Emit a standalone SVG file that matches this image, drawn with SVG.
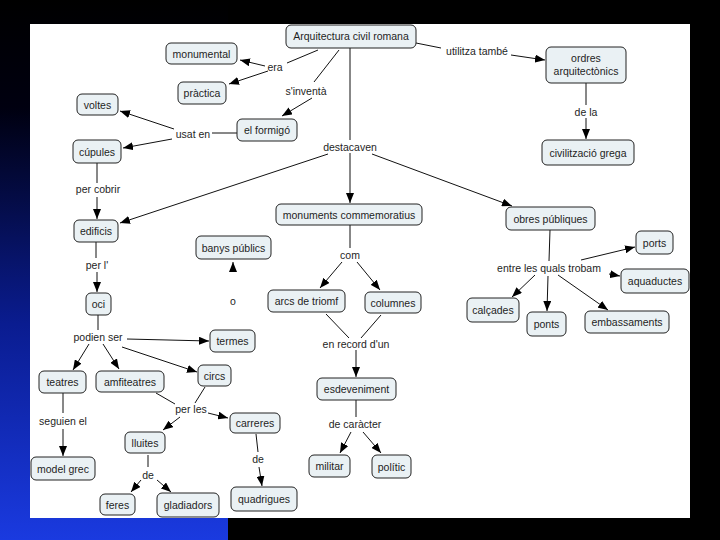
<svg xmlns="http://www.w3.org/2000/svg" width="720" height="540" viewBox="0 0 720 540">
<defs>
<linearGradient id="bg" x1="0" y1="0" x2="0" y2="1">
<stop offset="0" stop-color="#000000"/>
<stop offset="0.2" stop-color="#000010"/>
<stop offset="0.6" stop-color="#0a1c90"/>
<stop offset="1" stop-color="#1a3ae0"/>
</linearGradient>
<marker id="ah" markerUnits="userSpaceOnUse" markerWidth="10" markerHeight="8" refX="10" refY="4" orient="auto">
<path d="M0,0 L10,4 L0,8 z" fill="#000"/>
</marker>
<style>
.n rect{fill:#eaf1f4;stroke:#222;stroke-width:1}
.n text,.lb{font-family:"Liberation Sans",Arial,sans-serif;font-size:10.5px;fill:#1e1e1e;text-anchor:middle}
.c line,.c path{stroke:#111;stroke-width:1;fill:none}
.a{marker-end:url(#ah)}
</style>
</defs>
<rect width="720" height="540" fill="#000"/>
<rect x="0" y="0" width="228" height="540" fill="url(#bg)"/>
<rect x="30" y="24" width="660" height="494" fill="#fff"/>

<g class="c" id="connectors">
<line x1="318" y1="50" x2="287" y2="63"/>
<line class="a" x1="265" y1="66" x2="240" y2="60"/>
<line class="a" x1="268" y1="71" x2="229" y2="84"/>
<line x1="339" y1="50" x2="314" y2="82"/>
<line class="a" x1="312" y1="98" x2="282" y2="116"/>
<line x1="350" y1="48" x2="350" y2="140"/>
<line class="a" x1="350" y1="153" x2="350" y2="203"/>
<line class="a" x1="328" y1="154" x2="120" y2="223"/>
<line class="a" x1="372" y1="154" x2="512" y2="206"/>
<line x1="416" y1="43" x2="441" y2="48"/>
<line class="a" x1="511" y1="55" x2="545" y2="60"/>
<line x1="586" y1="83" x2="586" y2="105"/>
<line class="a" x1="586" y1="118" x2="586" y2="139"/>
<line x1="237" y1="133" x2="212" y2="133"/>
<line class="a" x1="174" y1="129" x2="120" y2="111"/>
<line class="a" x1="172" y1="139" x2="123" y2="148"/>
<line x1="97" y1="163" x2="97" y2="183"/>
<line class="a" x1="97" y1="197" x2="97" y2="219"/>
<line x1="96" y1="242" x2="96" y2="258"/>
<line class="a" x1="97" y1="272" x2="97" y2="292"/>
<line x1="98" y1="315" x2="98" y2="330"/>
<line class="a" x1="127" y1="339" x2="209" y2="341"/>
<line class="a" x1="89" y1="344" x2="73" y2="370"/>
<line class="a" x1="103" y1="344" x2="119" y2="369"/>
<line class="a" x1="122" y1="347" x2="197" y2="372"/>
<line class="a" x1="233" y1="271" x2="233" y2="262"/>
<line x1="63" y1="393" x2="63" y2="413"/>
<line class="a" x1="63" y1="429" x2="63" y2="456"/>
<line x1="156" y1="393" x2="175" y2="404"/>
<line x1="205" y1="387" x2="195" y2="403"/>
<line class="a" x1="180" y1="417" x2="163" y2="430"/>
<line class="a" x1="208" y1="413" x2="228" y2="418"/>
<line x1="148" y1="455" x2="148" y2="467"/>
<line class="a" x1="141" y1="480" x2="131" y2="492"/>
<line class="a" x1="157" y1="480" x2="171" y2="492"/>
<line x1="256" y1="434" x2="258" y2="452"/>
<line class="a" x1="259" y1="467" x2="262" y2="486"/>
<line x1="350" y1="225" x2="350" y2="248"/>
<line class="a" x1="342" y1="262" x2="320" y2="288"/>
<line class="a" x1="357" y1="262" x2="380" y2="290"/>
<line x1="326" y1="314" x2="349" y2="338"/>
<line x1="381" y1="315" x2="361" y2="338"/>
<line class="a" x1="356" y1="350" x2="356" y2="377"/>
<line x1="356" y1="400" x2="356" y2="417"/>
<line class="a" x1="351" y1="432" x2="340" y2="453"/>
<line class="a" x1="363" y1="432" x2="381" y2="453"/>
<line x1="550" y1="230" x2="549" y2="261"/>
<line class="a" x1="581" y1="260" x2="635" y2="247"/>
<line class="a" x1="609" y1="274" x2="620" y2="276"/>
<line class="a" x1="535" y1="275" x2="512" y2="297"/>
<line class="a" x1="548" y1="276" x2="547" y2="311"/>
<line class="a" x1="558" y1="275" x2="608" y2="310"/>
</g>

<g id="labels">
<text class="lb" x="275" y="71">era</text>
<text class="lb" x="306" y="95">s'inventà</text>
<text class="lb" x="477" y="55">utilitza també</text>
<text class="lb" x="586" y="116">de la</text>
<text class="lb" x="193" y="138">usat en</text>
<text class="lb" x="350" y="151">destacaven</text>
<text class="lb" x="98" y="193">per cobrir</text>
<text class="lb" x="97" y="269">per l'</text>
<text class="lb" x="233" y="305">o</text>
<text class="lb" x="98" y="341">podien ser</text>
<text class="lb" x="350" y="259">com</text>
<text class="lb" x="356" y="348">en record d'un</text>
<text class="lb" x="355" y="428">de caràcter</text>
<text class="lb" x="549" y="272">entre les quals trobam</text>
<text class="lb" x="63" y="425">seguien el</text>
<text class="lb" x="191" y="413">per les</text>
<text class="lb" x="258" y="463">de</text>
<text class="lb" x="148" y="479">de</text>
</g>

<g id="n_arq" class="n"><rect x="286" y="25" width="130" height="23" rx="5"/><text x="351" y="40">Arquitectura civil romana</text></g>
<g id="n_monumental" class="n"><rect x="166" y="43" width="71" height="21" rx="5"/><text x="201.5" y="57.5">monumental</text></g>
<g id="n_practica" class="n"><rect x="178" y="82" width="48" height="22" rx="5"/><text x="202" y="97">pràctica</text></g>
<g id="n_formigo" class="n"><rect x="237" y="119" width="60" height="22" rx="5"/><text x="267" y="134">el formigó</text></g>
<g id="n_voltes" class="n"><rect x="77" y="94" width="41" height="21" rx="5"/><text x="97.5" y="108.5">voltes</text></g>
<g id="n_cupules" class="n"><rect x="73" y="140" width="48" height="23" rx="5"/><text x="97" y="155.5">cúpules</text></g>
<g id="n_edificis" class="n"><rect x="74" y="220" width="44" height="22" rx="5"/><text x="96" y="235">edificis</text></g>
<g id="n_banys" class="n"><rect x="196" y="236" width="75" height="23" rx="5"/><text x="233.5" y="251.5">banys públics</text></g>
<g id="n_oci" class="n"><rect x="86" y="293" width="25" height="22" rx="5"/><text x="98.5" y="308">oci</text></g>
<g id="n_termes" class="n"><rect x="210" y="330" width="45" height="22" rx="5"/><text x="232.5" y="345">termes</text></g>
<g id="n_teatres" class="n"><rect x="39" y="371" width="47" height="22" rx="5"/><text x="62.5" y="386">teatres</text></g>
<g id="n_amfiteatres" class="n"><rect x="96" y="371" width="68" height="21" rx="5"/><text x="130" y="385.5">amfiteatres</text></g>
<g id="n_circs" class="n"><rect x="198" y="365" width="33" height="21" rx="5"/><text x="214.5" y="379.5">circs</text></g>
<g id="n_model" class="n"><rect x="31" y="457" width="64" height="23" rx="5"/><text x="63" y="472.5">model grec</text></g>
<g id="n_lluites" class="n"><rect x="125" y="432" width="40" height="21" rx="5"/><text x="145" y="446.5">lluites</text></g>
<g id="n_carreres" class="n"><rect x="230" y="413" width="50" height="20" rx="5"/><text x="255" y="427">carreres</text></g>
<g id="n_feres" class="n"><rect x="100" y="494" width="35" height="21" rx="5"/><text x="117.5" y="508.5">feres</text></g>
<g id="n_gladiadors" class="n"><rect x="157" y="493" width="62" height="24" rx="5"/><text x="188" y="509">gladiadors</text></g>
<g id="n_quadrigues" class="n"><rect x="231" y="487" width="66" height="24" rx="5"/><text x="264" y="503">quadrigues</text></g>
<g id="n_monuments" class="n"><rect x="276" y="204" width="146" height="21" rx="5"/><text x="349" y="218.5">monuments commemoratius</text></g>
<g id="n_arcs" class="n"><rect x="268" y="290" width="77" height="22" rx="5"/><text x="306.5" y="305">arcs de triomf</text></g>
<g id="n_columnes" class="n"><rect x="365" y="292" width="56" height="21" rx="5"/><text x="393" y="306.5">columnes</text></g>
<g id="n_esdeveniment" class="n"><rect x="317" y="378" width="79" height="22" rx="5"/><text x="356.5" y="393">esdeveniment</text></g>
<g id="n_militar" class="n"><rect x="309" y="455" width="41" height="22" rx="5"/><text x="329.5" y="470">militar</text></g>
<g id="n_politic" class="n"><rect x="372" y="455" width="39" height="23" rx="5"/><text x="391.5" y="470.5">polític</text></g>
<g id="n_obres" class="n"><rect x="506" y="207" width="89" height="23" rx="5"/><text x="550.5" y="222.5">obres públiques</text></g>
<g id="n_ports" class="n"><rect x="636" y="231" width="37" height="23" rx="5"/><text x="654.5" y="246.5">ports</text></g>
<g id="n_aquaductes" class="n"><rect x="621" y="269" width="68" height="24" rx="5"/><text x="655" y="285">aquaductes</text></g>
<g id="n_calcades" class="n"><rect x="467" y="298" width="52" height="24" rx="5"/><text x="493" y="314">calçades</text></g>
<g id="n_ponts" class="n"><rect x="527" y="312" width="39" height="24" rx="5"/><text x="546.5" y="328">ponts</text></g>
<g id="n_embassaments" class="n"><rect x="585" y="311" width="84" height="22" rx="5"/><text x="627" y="326">embassaments</text></g>
<g id="n_ordres" class="n"><rect x="546" y="47" width="80" height="36" rx="5"/><text x="586" y="62">ordres</text><text x="586" y="75">arquitectònics</text></g>
<g id="n_civilitzacio" class="n"><rect x="542" y="140" width="92" height="25" rx="5"/><text x="588" y="156.5">civilització grega</text></g>
</svg>
